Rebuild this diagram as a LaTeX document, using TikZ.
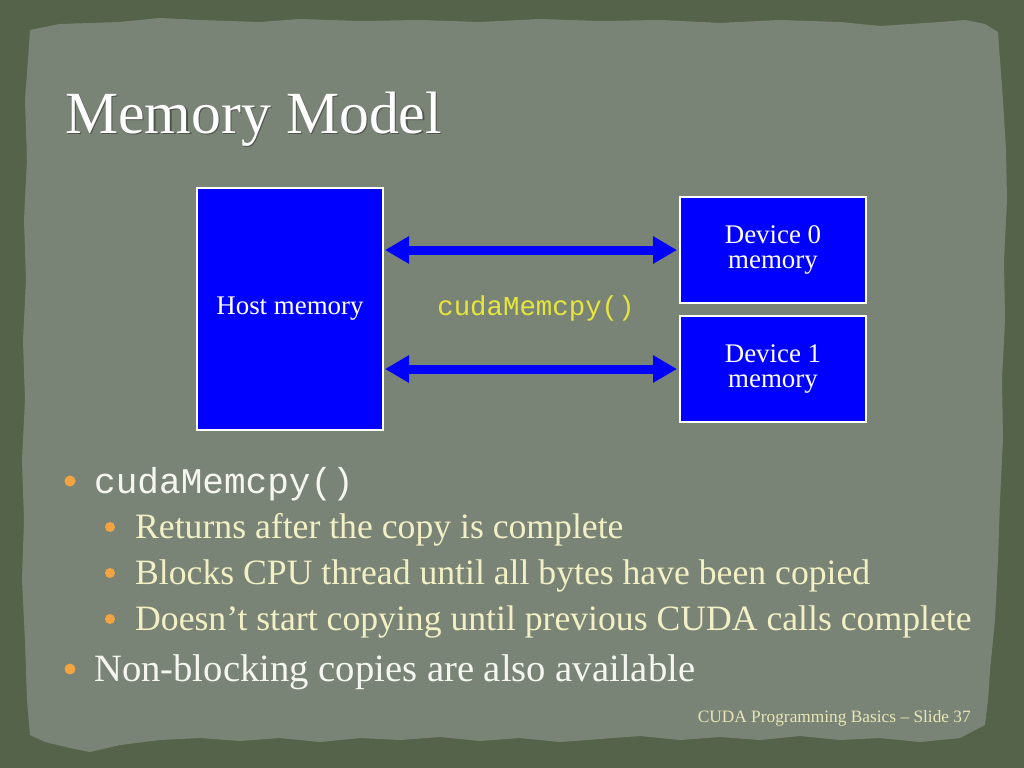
\documentclass[tikz,border=0pt]{standalone}
\usepackage{fontspec}
\setmainfont{Liberation Serif}
\setmonofont{Liberation Mono}
\usetikzlibrary{arrows.meta}
\definecolor{outerbg}{HTML}{55634B}
\definecolor{paper}{HTML}{7A8476}
\definecolor{boxblue}{HTML}{0000FF}
\definecolor{codeyellow}{HTML}{E6E63C}
\definecolor{cream}{HTML}{F2F0C4}
\definecolor{whitish}{HTML}{F6F6F0}
\definecolor{bulletorange}{HTML}{F2A442}
\definecolor{footer}{HTML}{E8E6B4}
\tikzset{
  membox/.style={draw=white, line width=2bp, fill=boxblue, inner sep=0pt, text=white, align=center,
                 font=\fontsize{27}{26}\selectfont},
  biarrow/.style={draw=boxblue, line width=9bp,
                  {Triangle[length=24bp,width=26bp]}-{Triangle[length=24bp,width=26bp]},
                  shorten <=1bp, shorten >=2bp},
  bulletdot/.style={circle, fill=bulletorange, inner sep=0pt, minimum size=11bp},
  lvlone/.style={anchor=base west, inner sep=0pt, text=whitish, font=\fontsize{38.8}{40}\selectfont},
  lvltwo/.style={anchor=base west, inner sep=0pt, text=cream, font=\fontsize{35.8}{38}\selectfont},
}
\begin{document}
\begin{tikzpicture}[x=1bp,y=-1bp]
\useasboundingbox (0,0) rectangle (1024,768);
\fill[outerbg] (0,0) rectangle (1024,768);
% paper
\fill[paper] (30,30) -- (60,24) -- (120,22) -- (160,18) -- (200,20) -- (260,22) -- (300,19) -- (360,21)
  -- (420,20) -- (480,22) -- (540,19) -- (600,21) -- (660,20) -- (720,23) -- (780,20) -- (840,22)
  -- (880,26) -- (910,24) -- (940,22) -- (965,20) -- (985,24) -- (998,32)
  -- (1000,60) -- (1003,100) -- (1006,150) -- (1007,200) -- (1004,260) -- (1005,320) -- (1002,380)
  -- (1003,440) -- (1000,500) -- (998,560) -- (995,620) -- (990,670) -- (988,700) -- (985,725)
  -- (960,738) -- (920,742) -- (880,738) -- (840,740) -- (800,736) -- (760,740) -- (720,737)
  -- (680,740) -- (640,736) -- (600,739) -- (560,742) -- (520,738) -- (480,741) -- (440,737)
  -- (400,740) -- (360,738) -- (320,742) -- (280,738) -- (240,741) -- (200,738) -- (160,740)
  -- (120,745) -- (90,752) -- (70,748) -- (45,742) -- (30,735)
  -- (27,700) -- (25,640) -- (22,580) -- (24,520) -- (22,460) -- (25,400) -- (23,340) -- (26,280)
  -- (24,220) -- (27,160) -- (25,100) -- (28,60) -- cycle;
% title
\node[anchor=base west, inner sep=0pt, text=black, opacity=0.35, font=\fontsize{60}{60}\selectfont]
  (titleshadow) at (66.5,134.5) {Memory Model};
\node[anchor=base west, inner sep=0pt, text=white, font=\fontsize{60}{60}\selectfont]
  (title) at (65,133) {Memory Model};
% diagram
\node[membox, minimum width=186bp, minimum height=242bp] (host) at (290,309) {Host memory};
\node[membox, minimum width=186bp, minimum height=106bp] (dev0) at (773,250) {Device 0\\memory};
\node[membox, minimum width=186bp, minimum height=106bp] (dev1) at (773,369) {Device 1\\memory};
\node[inner sep=0pt, text=codeyellow, font=\ttfamily\fontsize{27.5}{28}\selectfont] (label) at (536,308) {cudaMemcpy()};
\draw[biarrow] (host.east |- dev0.west) -- (dev0.west);
\draw[biarrow] (host.east |- dev1.west) -- (dev1.west);
% bullets
\node[bulletdot] (b1) at (70,481) {};
\node[lvlone, font=\ttfamily\fontsize{36.2}{40}\selectfont] (t1) at (94,493) {cudaMemcpy()};
\node[bulletdot, minimum size=10bp] (b2) at (110,527) {};
\node[lvltwo] (t2) at (135,538) {Returns after the copy is complete};
\node[bulletdot, minimum size=10bp] (b3) at (110,573) {};
\node[lvltwo] (t3) at (135,584) {Blocks CPU thread until all bytes have been copied};
\node[bulletdot, minimum size=10bp] (b4) at (110,619) {};
\node[lvltwo] (t4) at (135,630) {Doesn’t start copying until previous CUDA calls complete};
\node[bulletdot] (b5) at (70,669) {};
\node[lvlone] (t5) at (94,681) {Non-blocking copies are also available};
% footer
\node[anchor=base east, inner sep=0pt, text=footer, font=\fontsize{17.4}{18}\selectfont]
  (foot) at (971,722) {CUDA Programming Basics – Slide 37};
\end{tikzpicture}
\end{document}
